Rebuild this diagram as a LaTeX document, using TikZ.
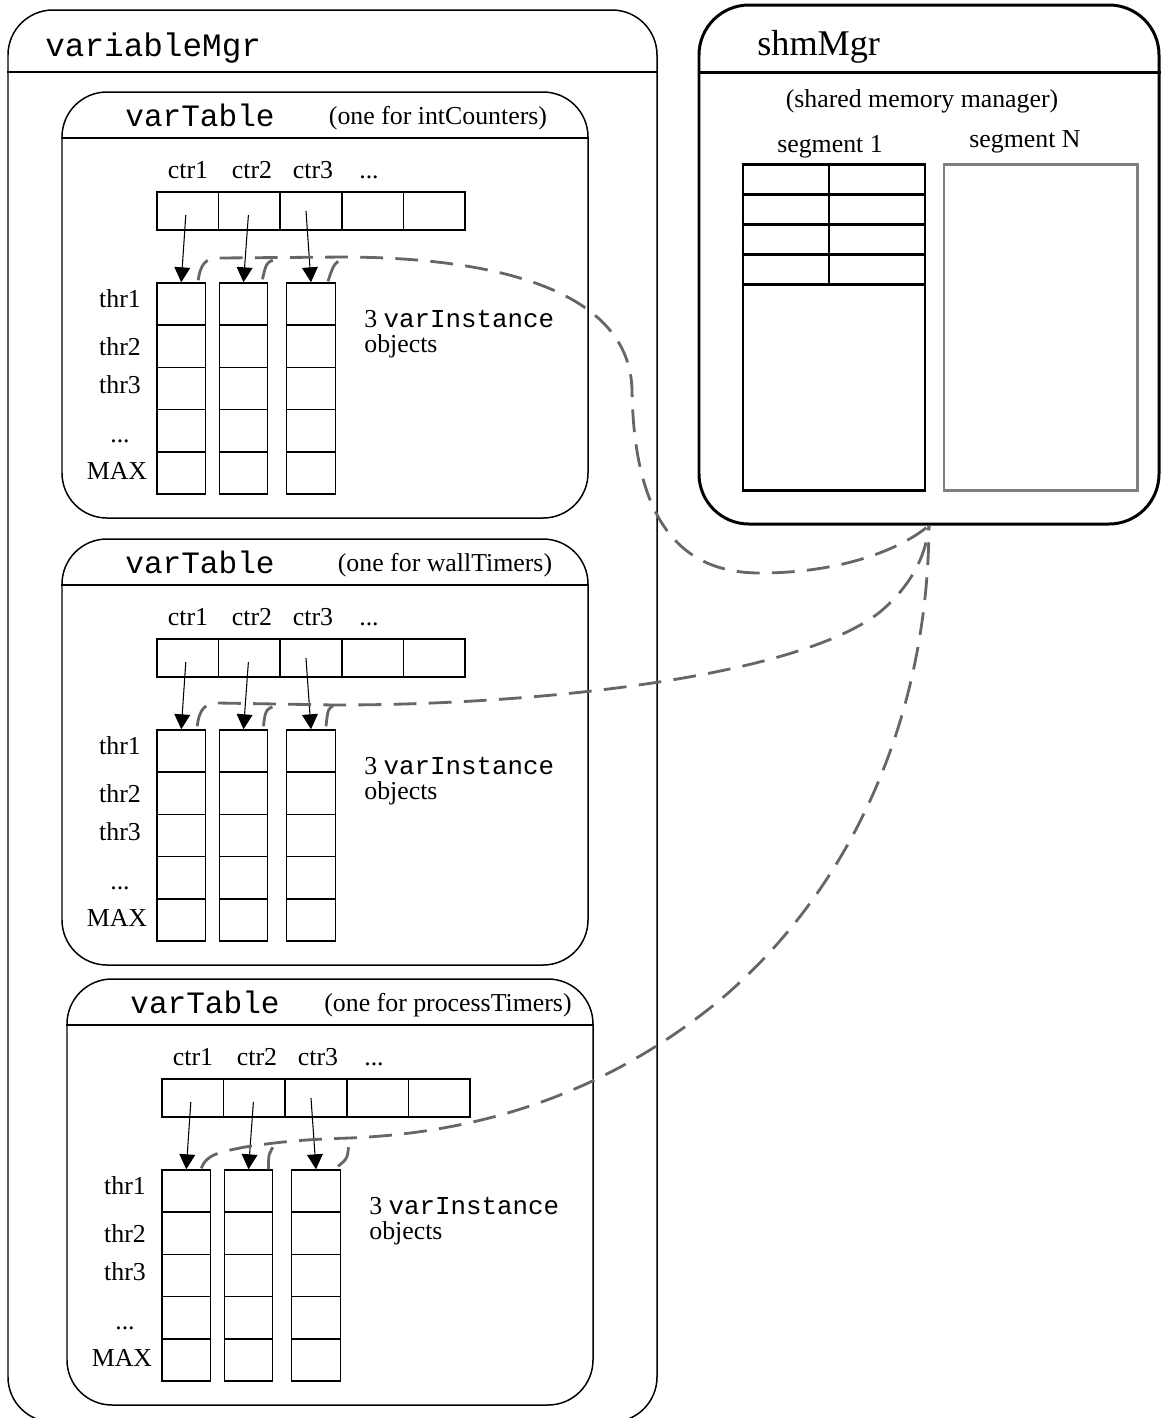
\documentclass[tikz,border=0pt]{standalone}
\usepackage{fontspec}
\setmainfont{Liberation Serif}
\setmonofont{Liberation Mono}
\usetikzlibrary{arrows.meta,calc}
\def\PX{0.02cm}
\newcommand\bodyf{\fontsize{14.7pt}{17pt}\selectfont}
\tikzset{
  outerbox/.style={draw, line width=0.85pt, rounded corners=0.9cm, inner sep=0pt},
  vtbox/.style={draw, line width=0.85pt, rounded corners=0.9cm, inner sep=0pt},
  ln/.style={line width=0.85pt},
  thk/.style={line width=1.7pt},
  ttl/.style={font=\fontsize{17.7pt}{20pt}\ttfamily\selectfont, inner sep=0pt},
  lbl/.style={font=\bodyf, inner sep=0pt},
  cell/.style={draw, line width=0.85pt, inner sep=0pt, minimum width={61.6*\PX}, minimum height={38*\PX}},
  colm/.style={draw, line width=0.85pt, inner sep=0pt, minimum width={48.5*\PX}, minimum height={211*\PX}},
  arr/.style={line width=0.6pt, -{Triangle[length=8.5pt,width=9pt]}},
  dsh/.style={draw=black!60, line width=1.6pt, dash pattern=on 13pt off 7pt},
  shmbox/.style={draw, line width=1.7pt, rounded corners=1cm, inner sep=0pt},
  segbox/.style={draw, line width=1.7pt, inner sep=0pt},
  segNbox/.style={draw=black!50, line width=1.7pt, inner sep=0pt}
}
% #1 prefix, #2 dx, #3 dy, #4 note text, #5 note center x
\newcommand{\vartab}[5]{%
  \node[vtbox, minimum width={526*\PX}, minimum height={426*\PX}] (#1box) at ({#2+325},{#3+305}) {};
  \draw[ln] (#1box.west |- 0,{#3+138}) -- (#1box.east |- 0,{#3+138});
  \node[ttl, anchor=base] (#1title) at ({#2+200},{#3+126}) {varTable};
  \node[lbl, anchor=base] (#1note) at (#5,{#3+124}) {#4};
  \node[lbl, anchor=base] (#1lA) at ({#2+188},{#3+178}) {ctr1};
  \node[lbl, anchor=base] (#1lB) at ({#2+252},{#3+178}) {ctr2};
  \node[lbl, anchor=base] (#1lC) at ({#2+313},{#3+178}) {ctr3};
  \node[lbl, anchor=base] (#1lD) at ({#2+369},{#3+178}) {...};
  \foreach \i/\n in {1/A,2/B,3/C,4/D,5/E}
    \node[cell] (#1c\n) at ({#2+157+30.8*(2*\i-1)},{#3+211}) {};
  \foreach \n/\xx in {A/181.25,B/243.5,C/311}{
    \node[colm] (#1col\n) at ({#2+\xx},{#3+388.5}) {};
    \foreach \k in {1,2,3,4}
      \draw[ln] (#1col\n.west |- 0,{#3+283+42.2*\k}) -- (#1col\n.east |- 0,{#3+283+42.2*\k});
  }
  \node[lbl, anchor=base] (#1tA) at ({#2+120},{#3+307}) {thr1};
  \node[lbl, anchor=base] (#1tB) at ({#2+120},{#3+355}) {thr2};
  \node[lbl, anchor=base] (#1tC) at ({#2+120},{#3+393}) {thr3};
  \node[lbl, anchor=base] (#1tD) at ({#2+120},{#3+442}) {...};
  \node[lbl, anchor=base] (#1tE) at ({#2+117},{#3+479}) {MAX};
  \node[lbl, anchor=base west] (#1vi) at ({#2+364},{#3+327}) {3 \texttt{varInstance}};
  \node[lbl, anchor=base west] (#1ob) at ({#2+364},{#3+352}) {objects};
  \draw[arr] ($(#1cA.center)+(-2,4)$) -- (#1colA.north);
  \draw[arr] ($(#1cB.center)+(-1,4)$) -- (#1colB.north);
  \draw[arr] ($(#1cC.center)+(-5,0)$) -- (#1colC.north);
}
\begin{document}
\begin{tikzpicture}[x=0.02cm,y=-0.02cm]
\useasboundingbox (0,0) rectangle (1161,1418);
% variableMgr
\node[outerbox, minimum width={649*\PX}, minimum height={1412*\PX}] (vm) at (332.5,716) {};
\draw[ln] (vm.west |- 0,72) -- (vm.east |- 0,72);
\node[font=\fontsize{18.6pt}{21pt}\ttfamily\selectfont, inner sep=0pt, anchor=base west] (vmtitle) at (45,56) {variableMgr};
% shmMgr
\node[shmbox, minimum width={460*\PX}, minimum height={519*\PX}] (shm) at (929,264.5) {};
\draw[thk] (shm.west |- 0,72) -- (shm.east |- 0,72);
\node[font=\fontsize{20.6pt}{23pt}\selectfont, inner sep=0pt, anchor=base west] (shmtitle) at (757,55) {shmMgr};
\node[lbl, anchor=base] (shmnote) at (922,107) {(shared memory manager)};
\node[lbl, anchor=base] (seg1l) at (830,152) {segment 1};
\node[lbl, anchor=base] (segNl) at (1025,147) {segment N};
\node[segbox, minimum width={182*\PX}, minimum height={326*\PX}] (seg1) at (834,327) {};
\foreach \yy in {194,224,254,284}
  \draw[thk] (seg1.west |- 0,\yy) -- (seg1.east |- 0,\yy);
\draw[thk] (829,164) -- (829,284);
\node[segNbox, minimum width={193*\PX}, minimum height={326*\PX}] (segN) at (1040.5,327) {};
% varTables
\vartab{v1}{0}{0}{(one for intCounters)}{438}
\vartab{v2}{0}{447}{(one for wallTimers)}{445}
\vartab{v3}{5}{887}{(one for processTimers)}{448}
% junctions
\coordinate (j1b) at (282,258);
\coordinate (j1c) at (345,257);
\coordinate (j2b) at (283,704);
\coordinate (j2c) at (335,705);
\coordinate (j3b) at (276,1143);
\coordinate (j3c) at (349,1138);
% dashed links
\draw[dsh] ($(v1colA.north east)+(-8,-2)$) .. controls +(2,-16) and +(-12,0) .. (218,258) -- (j1c)
  .. controls (520,258) and (630,300) .. (632,390)
  .. controls (634,520) and (680,573) .. (760,573)
  .. controls (840,573) and (900,550) .. (shm.south);
\draw[dsh] ($(v1colB.north east)+(-6,-3)$) .. controls +(4,-18) .. (j1b);
\draw[dsh] ($(v1colC.north east)+(-8,-1)$) .. controls +(6,-18) .. (j1c);
\draw[dsh] ($(v2colA.north east)+(-9,-3)$) .. controls +(2,-18) and +(-12,0) .. (218,703) -- (j2c)
  .. controls (550,705) and (800,675) .. (880,612)
  .. controls (912,585) and (926,555) .. (shm.south);
\draw[dsh] ($(v2colB.north east)+(-5,-3)$) .. controls +(2,-18) .. (j2b);
\draw[dsh] ($(v2colC.north east)+(-10,-3)$) .. controls +(2,-18) .. (j2c);
\draw[dsh] ($(v3colA.north east)+(-10,-1)$) .. controls +(5,-14) and +(-25,5) .. (245,1147)
  .. controls (290,1140) and (320,1139) .. (j3c)
  .. controls (500,1132) and (620,1082) .. (720,1000)
  .. controls (850,890) and (928,720) .. (shm.south);
\draw[dsh] ($(v3colB.north east)+(-5,0)$) .. controls +(0,-16) .. (j3b);
\draw[dsh] ($(v3colC.north east)+(-3,-3)$) .. controls +(10,-8) .. (j3c);
\end{tikzpicture}
\end{document}
